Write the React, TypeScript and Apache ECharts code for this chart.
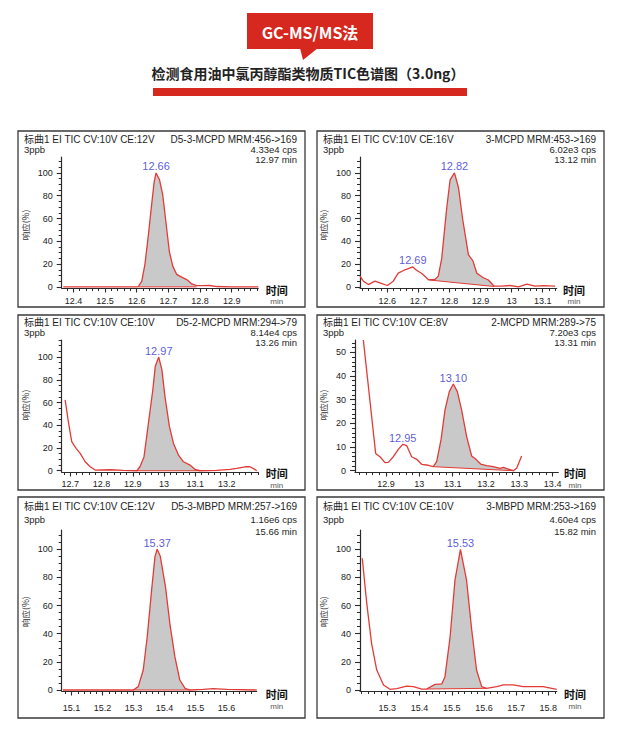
import React, { useEffect, useRef } from 'react';
import * as echarts from 'echarts';

const LATIN = '"Liberation Sans", Arial, "Noto Sans CJK SC", sans-serif';
const CJK = '"Noto Sans CJK SC", "Noto Sans", sans-serif';
const RED = '#e23b36';
const FILL = '#c9c9c9';
const AXIS = '#2a2a2a';
const BLUE = '#2f2fd0';

// ---------- Panel 1 : D5-3-MCPD ----------
const p1Time = [12.368, 12.45, 12.52, 12.6, 12.605, 12.616, 12.626, 12.637, 12.647, 12.655, 12.661, 12.672, 12.682, 12.693, 12.703, 12.714, 12.726, 12.742, 12.758, 12.774, 12.789, 12.81, 12.83, 12.853, 12.9, 12.984];
const p1Resp = [0, 0, 0, 0, 0.3, 5, 20, 46, 72, 92, 100, 94, 81, 55, 31, 18, 11, 8.5, 6.4, 2.6, 1, 1, 1.2, 0.3, 0, 0];
const p1BaseTime = [12.605, 12.789];
const p1BaseResp = [0, 0];
const p1PeakTime = [12.661];
const p1PeakResp = [100];
const p1PeakLabel = ['12.66'];
const p1XTicks = [12.4, 12.5, 12.6, 12.7, 12.8, 12.9];
const p1YTicks = [0, 20, 40, 60, 80, 100];
const p1Head = ['标曲1 EI TIC CV:10V CE:12V', 'D5-3-MCPD MRM:456->169', '3ppb', '4.33e4 cps', '12.97 min'];

// ---------- Panel 2 : 3-MCPD ----------
const p2Time = [12.512, 12.523, 12.539, 12.56, 12.576, 12.6, 12.619, 12.635, 12.657, 12.682, 12.694, 12.71, 12.732, 12.753, 12.764, 12.775, 12.791, 12.802, 12.816, 12.829, 12.842, 12.861, 12.875, 12.888, 12.909, 12.925, 12.944, 12.968, 12.995, 13.022, 13.049, 13.075, 13.102, 13.14];
const p2Resp = [9.4, 5, 2, 5, 3.5, 1.2, 5, 12, 15, 17.5, 14.6, 12, 6.4, 6.4, 9.4, 25, 69, 94, 100, 87, 60, 28, 23, 12, 8, 6, 0.6, 0.6, 1.2, 0, 2.3, 0.6, 1, 0.6];
const p2BaseTime = [12.732, 12.944];
const p2BaseResp = [6.1, 0.3];
const p2PeakTime = [12.682, 12.816];
const p2PeakResp = [17.5, 100];
const p2PeakLabel = ['12.69', '12.82'];
const p2XTicks = [12.6, 12.7, 12.8, 12.9, 13, 13.1];
const p2YTicks = [0, 20, 40, 60, 80, 100];
const p2Head = ['标曲1 EI TIC CV:10V CE:16V', '3-MCPD MRM:453->169', '3ppb', '6.02e3 cps', '13.12 min'];

// ---------- Panel 3 : D5-2-MCPD ----------
const p3Time = [12.684, 12.695, 12.705, 12.719, 12.732, 12.748, 12.764, 12.78, 12.828, 12.87, 12.913, 12.923, 12.936, 12.95, 12.964, 12.972, 12.983, 12.993, 13.003, 13.017, 13.03, 13.046, 13.062, 13.083, 13.099, 13.115, 13.168, 13.211, 13.232, 13.259, 13.274, 13.29, 13.296];
const p3Resp = [62.4, 41.8, 25.6, 19.7, 15.3, 7.9, 3.5, 0.6, 0.9, 0.3, 0, 3.5, 12.4, 41.8, 71, 92, 100, 89, 65, 39, 24, 13.8, 7.9, 5, 1.2, 0, 0.3, 1.2, 2.1, 3.5, 3.5, 1.2, 0];
const p3BaseTime = [12.913, 13.115];
const p3BaseResp = [0, 0];
const p3PeakTime = [12.983];
const p3PeakResp = [100];
const p3PeakLabel = ['12.97'];
const p3XTicks = [12.7, 12.8, 12.9, 13, 13.1, 13.2];
const p3YTicks = [0, 20, 40, 60, 80, 100];
const p3Head = ['标曲1 EI TIC CV:10V CE:10V', 'D5-2-MCPD MRM:294->79', '3ppb', '8.14e4 cps', '13.26 min'];

// ---------- Panel 4 : 2-MCPD ----------
const p4Time = [12.832, 12.869, 12.882, 12.897, 12.907, 12.922, 12.937, 12.95, 12.962, 12.977, 12.992, 13.007, 13.027, 13.042, 13.052, 13.065, 13.077, 13.09, 13.102, 13.114, 13.127, 13.142, 13.157, 13.17, 13.184, 13.202, 13.222, 13.242, 13.252, 13.267, 13.282, 13.292, 13.307];
const p4Resp = [55.2, 7.3, 5.9, 3.4, 3.5, 5.9, 9, 11.1, 10.6, 5.9, 4.8, 2.7, 2.3, 1.7, 3.8, 13, 25.6, 33.4, 36.6, 33.4, 25.6, 14.4, 6.2, 4.8, 2.8, 2.1, 1.7, 1, 1.4, 0.7, 0, 1, 6.2];
const p4BaseTime = [13.042, 13.282];
const p4BaseResp = [1.7, 0];
const p4PeakTime = [12.95, 13.102];
const p4PeakResp = [11.1, 36.6];
const p4PeakLabel = ['12.95', '13.10'];
const p4XTicks = [12.9, 13, 13.1, 13.2, 13.3, 13.4];
const p4YTicks = [0, 10, 20, 30, 40, 50];
const p4Head = ['标曲1 EI TIC CV:10V CE:8V', '2-MCPD MRM:289->75', '3ppb', '7.20e3 cps', '13.31 min'];

// ---------- Panel 5 : D5-3-MBPD ----------
const p5Time = [15.072, 15.15, 15.25, 15.299, 15.315, 15.331, 15.344, 15.358, 15.369, 15.376, 15.386, 15.403, 15.417, 15.433, 15.449, 15.466, 15.482, 15.525, 15.557, 15.6, 15.697];
const p5Resp = [0, 0, 0, 0, 2.4, 14.2, 38, 71, 95, 100, 95, 73, 47, 23.7, 7.1, 1.2, 0, 0.5, 1, 0.5, 0];
const p5BaseTime = [15.299, 15.482];
const p5BaseResp = [0, 0];
const p5PeakTime = [15.376];
const p5PeakResp = [100];
const p5PeakLabel = ['15.37'];
const p5XTicks = [15.1, 15.2, 15.3, 15.4, 15.5, 15.6];
const p5YTicks = [0, 20, 40, 60, 80, 100];
const p5Head = ['标曲1 EI TIC CV:10V CE:12V', 'D5-3-MBPD MRM:257->169', '3ppb', '1.16e6 cps', '15.66 min'];

// ---------- Panel 6 : 3-MBPD ----------
const p6Time = [15.222, 15.236, 15.251, 15.267, 15.288, 15.308, 15.329, 15.36, 15.381, 15.407, 15.422, 15.448, 15.469, 15.479, 15.495, 15.51, 15.527, 15.546, 15.562, 15.577, 15.593, 15.608, 15.64, 15.66, 15.691, 15.722, 15.784, 15.826];
const p6Resp = [93.6, 61.6, 33, 14.2, 3.6, 0.5, 1, 2.8, 2.4, 0.7, 0.7, 4, 4.3, 9.5, 38, 78, 100, 78, 42.7, 14.2, 2.4, 1.2, 2.4, 3.6, 3.6, 2.4, 2.4, 0.5];
const p6BaseTime = [15.422, 15.608];
const p6BaseResp = [0.7, 1.2];
const p6PeakTime = [15.527];
const p6PeakResp = [100];
const p6PeakLabel = ['15.53'];
const p6XTicks = [15.3, 15.4, 15.5, 15.6, 15.7, 15.8];
const p6YTicks = [0, 20, 40, 60, 80, 100];
const p6Head = ['标曲1 EI TIC CV:10V CE:10V', '3-MBPD MRM:253->169', '3ppb', '4.60e4 cps', '15.82 min'];

const titleBadge = 'GC-MS/MS法';
const titleText = '检测食用油中氯丙醇酯类物质TIC色谱图（3.0ng）';
const yName = '响应(%)';

const panelsData = [
  { time: p1Time, resp: p1Resp, bt: p1BaseTime, br: p1BaseResp, pt: p1PeakTime, pr: p1PeakResp, pl: p1PeakLabel, xt: p1XTicks, yt: p1YTicks, head: p1Head },
  { time: p2Time, resp: p2Resp, bt: p2BaseTime, br: p2BaseResp, pt: p2PeakTime, pr: p2PeakResp, pl: p2PeakLabel, xt: p2XTicks, yt: p2YTicks, head: p2Head },
  { time: p3Time, resp: p3Resp, bt: p3BaseTime, br: p3BaseResp, pt: p3PeakTime, pr: p3PeakResp, pl: p3PeakLabel, xt: p3XTicks, yt: p3YTicks, head: p3Head },
  { time: p4Time, resp: p4Resp, bt: p4BaseTime, br: p4BaseResp, pt: p4PeakTime, pr: p4PeakResp, pl: p4PeakLabel, xt: p4XTicks, yt: p4YTicks, head: p4Head },
  { time: p5Time, resp: p5Resp, bt: p5BaseTime, br: p5BaseResp, pt: p5PeakTime, pr: p5PeakResp, pl: p5PeakLabel, xt: p5XTicks, yt: p5YTicks, head: p5Head },
  { time: p6Time, resp: p6Resp, bt: p6BaseTime, br: p6BaseResp, pt: p6PeakTime, pr: p6PeakResp, pl: p6PeakLabel, xt: p6XTicks, yt: p6YTicks, head: p6Head },
];

// layout (pixels) and axis ranges
const layouts = [
  { box: [18, 131, 287, 176], grid: [61.7, 157, 196.6, 131], x: [12.363, 12.984], y: [-1, 114], yMinor: 5, xMargin: 8, head: [139.5, 149.5, 159.5], tm: [276.7, 289.5, 301.5], yn: [25, 225] },
  { box: [317, 131, 287, 176], grid: [360, 157, 196.7, 131], x: [12.512, 13.145], y: [-1, 114], yMinor: 5, xMargin: 8, head: [139.5, 149.5, 159.5], tm: [574, 289.5, 301.5], yn: [323.3, 225] },
  { box: [18, 315, 287, 175], grid: [61.7, 340, 196.6, 132], x: [12.673, 13.301], y: [-1.1, 115], yMinor: 5, xMargin: 7.5, head: [322.8, 332.8, 342.8], tm: [276.7, 473, 485], yn: [25, 405] },
  { box: [317, 315, 287, 175], grid: [355, 340, 203.3, 132], x: [12.807, 13.417], y: [-0.55, 55.2], yMinor: 2, xMargin: 7.5, head: [322.8, 332.8, 342.8], tm: [575, 473, 485], yn: [323.3, 405] },
  { box: [18, 497, 287, 221], grid: [61.7, 530, 195, 161], x: [15.068, 15.697], y: [-0.7, 113.7], yMinor: 5, xMargin: 12, head: [506.7, 519.5, 531.5], tm: [276.7, 694, 706.7], yn: [25, 611.7] },
  { box: [317, 497, 287, 221], grid: [360, 530, 196.7, 161], x: [15.215, 15.826], y: [-0.7, 113.7], yMinor: 5, xMargin: 12, head: [506.7, 519.5, 531.5], tm: [575, 694, 706.7], yn: [323.3, 611.7] },
];

function steps(min: number, max: number, step: number): number[] {
  const out: number[] = [];
  const start = Math.ceil(min / step - 1e-9);
  for (let k = start; k * step <= max + 1e-9; k++) out.push(+(k * step).toFixed(4));
  return out;
}

function zip(a: number[], b: number[]) {
  return a.map((v, i) => [v, b[i]]);
}

function buildOption() {
  const grid: any[] = [];
  const xAxis: any[] = [];
  const yAxis: any[] = [];
  const series: any[] = [];
  const graphic: any[] = [];

  panelsData.forEach((p, i) => {
    const L = layouts[i];
    grid.push({ left: L.grid[0], top: L.grid[1], width: L.grid[2], height: L.grid[3], containLabel: false, outerBoundsMode: 'none' });
    const xi = i * 2;
    xAxis.push({
      type: 'value', gridIndex: i, min: L.x[0], max: L.x[1], position: 'bottom',
      axisLine: { show: true, onZero: false, lineStyle: { color: AXIS, width: 1.2 } },
      axisTick: { show: true, customValues: p.xt, length: 4.5, lineStyle: { color: AXIS, width: 1.1 } },
      axisLabel: { show: true, customValues: p.xt, margin: L.xMargin, fontSize: 9, color: '#222', fontFamily: LATIN, formatter: (v: number) => String(v) },
      splitLine: { show: false },
    });
    xAxis.push({
      type: 'value', gridIndex: i, min: L.x[0], max: L.x[1], position: 'bottom',
      axisLine: { show: false, onZero: false },
      axisTick: { show: true, customValues: steps(L.x[0], L.x[1], 0.02), length: 3, lineStyle: { color: AXIS, width: 1 } },
      axisLabel: { show: false },
      splitLine: { show: false },
    });
    yAxis.push({
      type: 'value', gridIndex: i, min: L.y[0], max: L.y[1], position: 'left',
      axisLine: { show: true, onZero: false, lineStyle: { color: AXIS, width: 1.2 } },
      axisTick: { show: true, customValues: p.yt, length: 5, lineStyle: { color: AXIS, width: 1.1 } },
      axisLabel: { show: true, customValues: p.yt, margin: 9, fontSize: 9, color: '#222', fontFamily: LATIN },
      splitLine: { show: false },
    });
    yAxis.push({
      type: 'value', gridIndex: i, min: L.y[0], max: L.y[1], position: 'left',
      axisLine: { show: false, onZero: false },
      axisTick: { show: true, customValues: steps(Math.max(0, L.y[0]), L.y[1], L.yMinor), length: 3, lineStyle: { color: AXIS, width: 1 } },
      axisLabel: { show: false },
      splitLine: { show: false },
    });

    const t0 = p.bt[0];
    const t1 = p.bt[1];
    const peakPts: number[][] = [[p.bt[0], p.br[0]]];
    p.time.forEach((t, k) => { if (t > t0 && t < t1) peakPts.push([t, p.resp[k]]); });
    peakPts.push([p.bt[1], p.br[1]]);

    series.push({
      type: 'custom', xAxisIndex: xi, yAxisIndex: xi, silent: true, z: 1,
      data: [[t0, 0]],
      renderItem: (_params: any, api: any) => ({
        type: 'polygon',
        shape: { points: peakPts.map((q) => api.coord(q)) },
        style: { fill: FILL, stroke: 'none' },
      }),
    });
    series.push({
      type: 'line', xAxisIndex: xi, yAxisIndex: xi, z: 2, silent: true,
      data: zip(p.bt, p.br), symbol: 'none',
      lineStyle: { color: RED, width: 1 },
    });
    series.push({
      type: 'line', xAxisIndex: xi, yAxisIndex: xi, z: 3, silent: true,
      data: zip(p.time, p.resp), symbol: 'none', clip: true,
      lineStyle: { color: RED, width: 1.3 },
    });
    series.push({
      type: 'scatter', xAxisIndex: xi, yAxisIndex: xi, z: 4, silent: true,
      symbolSize: 0,
      itemStyle: { color: 'rgba(0,0,0,0)' },
      data: p.pt.map((t, k) => ({ name: p.pl[k], value: [t, p.pr[k]] })),
      label: { show: true, position: 'top', distance: 1, formatter: '{b}', color: BLUE, fontSize: 11, fontFamily: LATIN },
    });

    graphic.push({ type: 'rect', shape: { x: L.box[0], y: L.box[1], width: L.box[2], height: L.box[3] }, style: { fill: 'none', stroke: '#3a3a3a', lineWidth: 1.3 }, silent: true });
    const lx = L.box[0] + 6;
    const rx = L.box[0] + L.box[2] - 8;
    const txt = (x: number, y: number, s: string, align: string, extra: any = {}) => ({
      type: 'text', x, y, silent: true,
      style: { text: s, fill: '#1e1e1e', fontSize: 9.5, fontFamily: LATIN, align, verticalAlign: 'middle', textAlign: align, textVerticalAlign: 'middle', ...extra },
    });
    graphic.push(txt(lx, L.head[0], p.head[0], 'left', { fontSize: 10 }));
    graphic.push(txt(rx, L.head[0], p.head[1], 'right', { fontSize: 10 }));
    graphic.push(txt(lx, L.head[1], p.head[2], 'left'));
    graphic.push(txt(rx, L.head[1], p.head[3], 'right'));
    graphic.push(txt(rx, L.head[2], p.head[4], 'right'));
    graphic.push(txt(L.tm[0], L.tm[1], '时间', 'center', { fontSize: 11, fontWeight: 'bold', fontFamily: CJK, fill: '#111' }));
    graphic.push(txt(L.tm[0], L.tm[2], 'min', 'center', { fontSize: 8, fill: '#555' }));
    graphic.push({
      type: 'text', x: L.yn[0], y: L.yn[1], rotation: Math.PI / 2, silent: true,
      style: { text: yName, fill: '#333', fontSize: 8.5, fontFamily: CJK, align: 'center', verticalAlign: 'middle', textAlign: 'center', textVerticalAlign: 'middle' },
    });
  });

  graphic.push({ type: 'rect', shape: { x: 247, y: 13, width: 126, height: 36 }, style: { fill: '#d6281e' }, silent: true });
  graphic.push({ type: 'polygon', shape: { points: [[300, 48], [318, 48], [303, 60]] }, style: { fill: '#d6281e' }, silent: true });
  graphic.push({
    type: 'text', x: 310, y: 31.5, silent: true,
    style: { text: titleBadge, fill: '#ffffff', fontSize: 16, fontWeight: 'bold', fontFamily: CJK, align: 'center', verticalAlign: 'middle', textAlign: 'center', textVerticalAlign: 'middle' },
  });
  graphic.push({
    type: 'text', x: 308, y: 73, silent: true,
    style: { text: titleText, fill: '#222', fontSize: 14, fontWeight: 'bold', fontFamily: CJK, align: 'center', verticalAlign: 'middle', textAlign: 'center', textVerticalAlign: 'middle' },
  });
  graphic.push({ type: 'rect', shape: { x: 153, y: 88, width: 314, height: 8 }, style: { fill: '#d6281e' }, silent: true });

  return {
    animation: false,
    backgroundColor: '#ffffff',
    grid, xAxis, yAxis, series, graphic,
  };
}

export default function App() {
  const ref = useRef<HTMLDivElement>(null);
  useEffect(() => {
    if (!ref.current) return;
    const chart = echarts.init(ref.current, undefined, { renderer: 'svg' });
    chart.setOption(buildOption() as any);
    return () => chart.dispose();
  }, []);
  return <div ref={ref} style={{ position: 'absolute', left: 0, top: 0, width: 619, height: 742 }} />;
}
